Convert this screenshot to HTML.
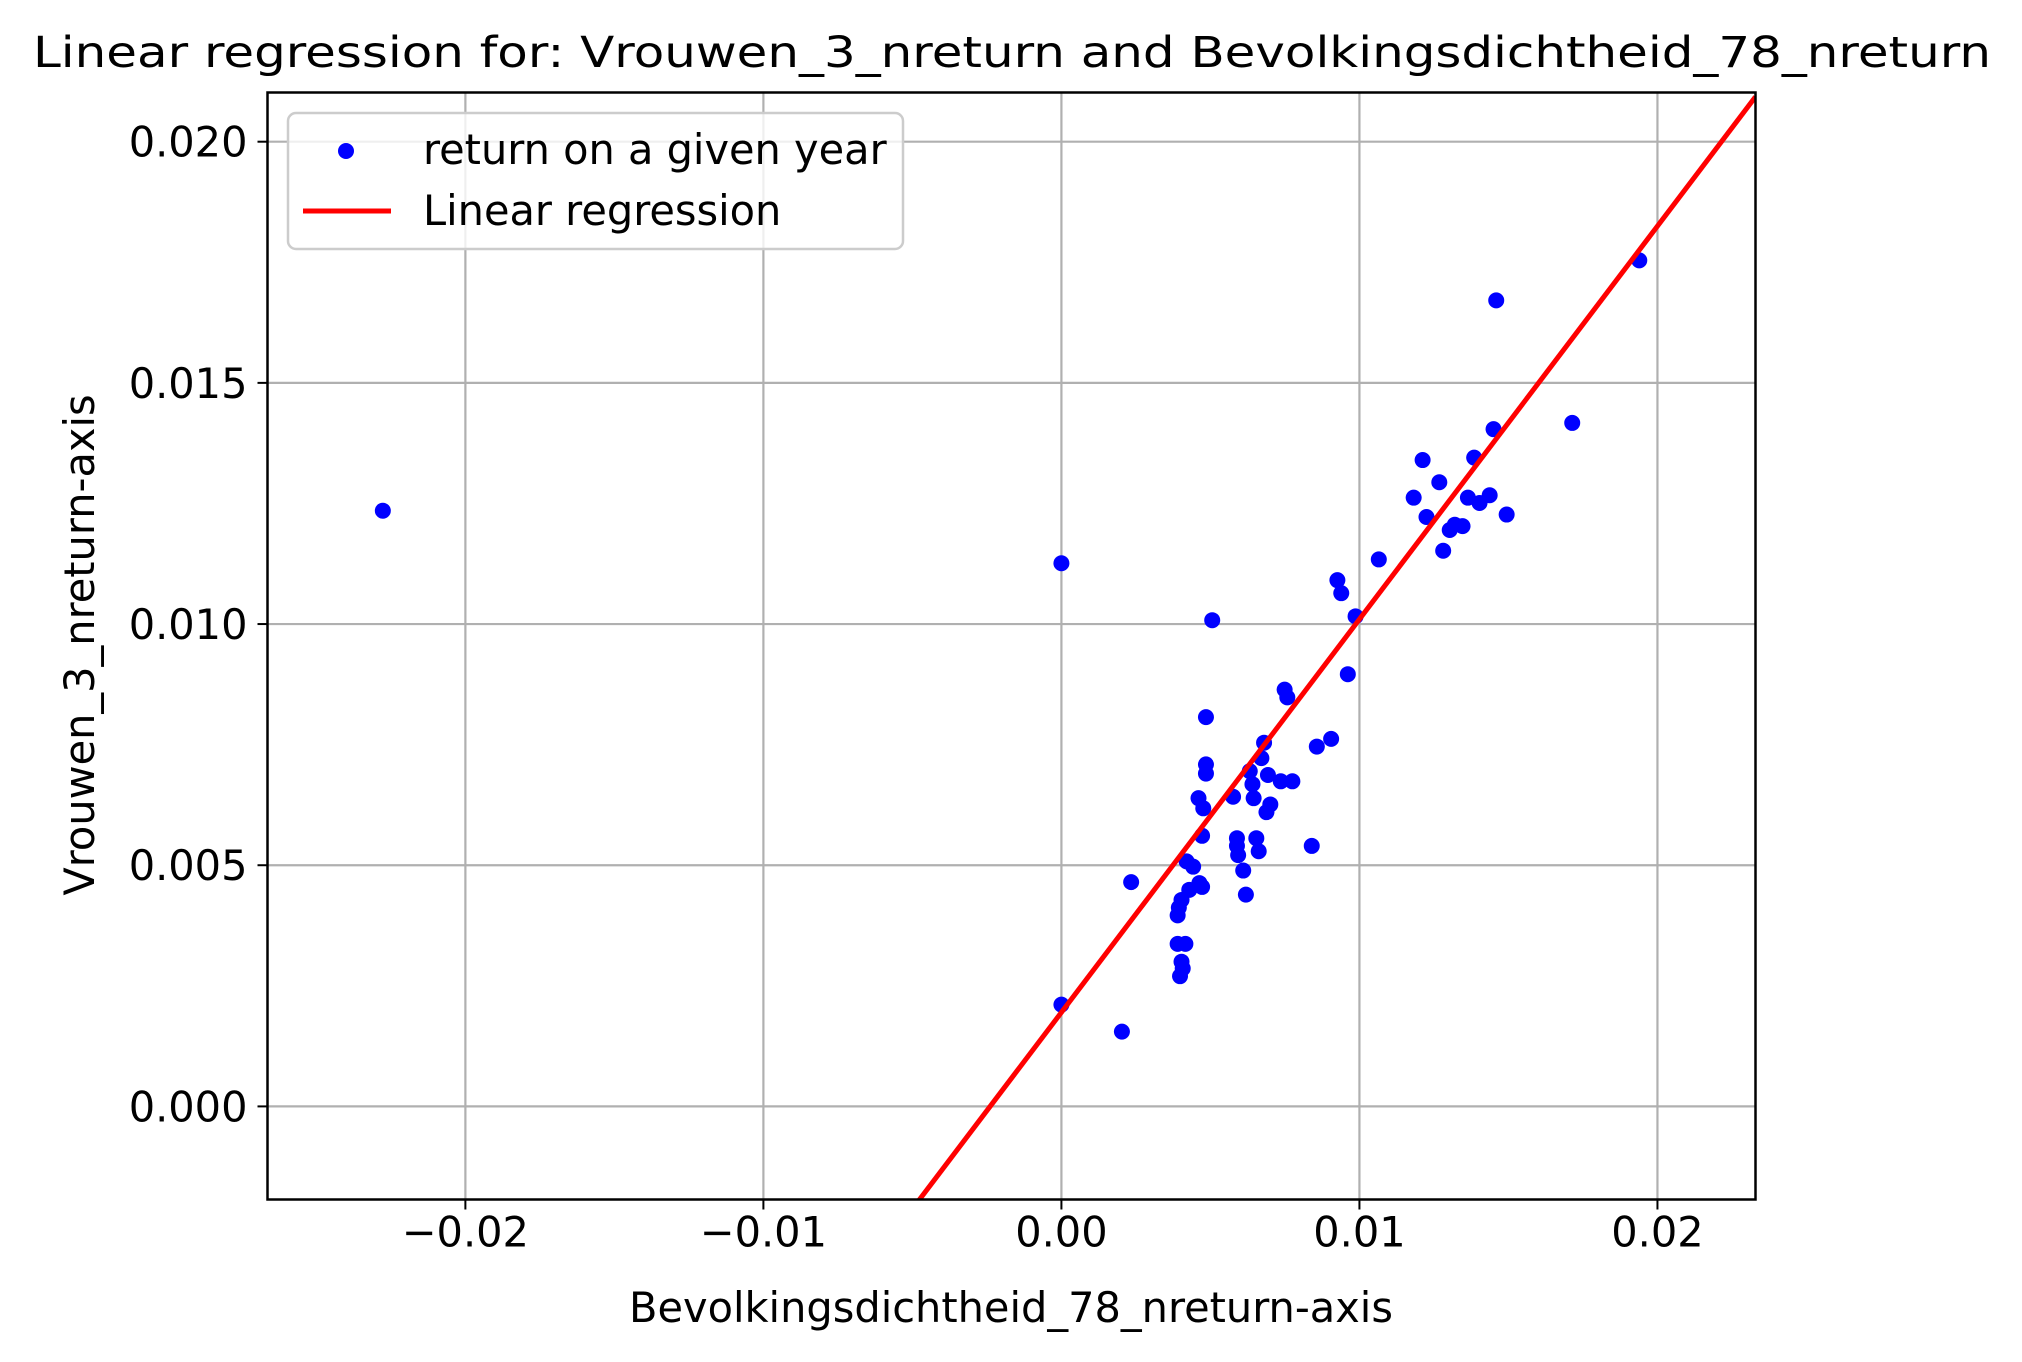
<!DOCTYPE html>
<html><head><meta charset="utf-8"><style>
html,body{margin:0;padding:0;background:#fff;overflow:hidden;width:2022px;height:1362px;}
svg{display:block;font-family:"DejaVu Sans","Liberation Sans",sans-serif;}
</style></head><body>
<svg id="chart" width="2022" height="1362" viewBox="0 0 2022 1362" xmlns="http://www.w3.org/2000/svg">
<rect width="2022" height="1362" fill="#fff"/>
<text x="1012" y="67" font-size="43" text-anchor="middle" textLength="1958" lengthAdjust="spacingAndGlyphs">Linear regression for: Vrouwen_3_nreturn and Bevolkingsdichtheid_78_nreturn</text>
<g id="grid"></g>
<g id="plot"></g>
<rect x="267.5" y="92.5" width="1488" height="1107" fill="none" stroke="#000" stroke-width="2.5"/>
<g id="ticks"></g>
<text x="1011" y="1322" font-size="41.5" text-anchor="middle">Bevolkingsdichtheid_78_nreturn-axis</text>
<text transform="translate(94,645) rotate(-90)" font-size="41.5" text-anchor="middle">Vrouwen_3_nreturn-axis</text>
<g>
<rect x="288" y="113" width="615" height="136" rx="8" fill="#fff" fill-opacity="0.8" stroke="#ccc" stroke-width="2.5"/>
<circle cx="346" cy="151" r="8" fill="#0000ff"/>
<text x="423" y="164" font-size="41.5">return on a given year</text>
<line x1="303" y1="211" x2="391" y2="211" stroke="#ff0000" stroke-width="5"/>
<text x="423" y="225" font-size="41.5">Linear regression</text>
</g>
</svg>
<script>
const xs = [-0.02277,0,0,0.00203,0.00234,0.00506,0.00485,0.00485,0.00485,0.0046,0.00476,0.00472,0.0042,0.00442,0.00463,0.00472,0.00429,0.00403,0.00394,0.0039,0.0039,0.00416,0.00403,0.00407,0.00398,0.00576,0.00589,0.00589,0.00593,0.0061,0.00619,0.00632,0.00641,0.00645,0.00654,0.00662,0.00671,0.0068,0.00693,0.00701,0.00688,0.00736,0.00775,0.00749,0.00758,0.0084,0.00857,0.00905,0.00926,0.00939,0.00961,0.00987,0.01065,0.01182,0.01212,0.01225,0.01268,0.01281,0.01303,0.0132,0.01346,0.01364,0.01385,0.01403,0.01437,0.0145,0.01459,0.01494,0.01714,0.01939];
const ys = [0.01235,0.01126,0.00211,0.00155,0.00465,0.01008,0.00807,0.00709,0.0069,0.00639,0.00618,0.00561,0.00508,0.00497,0.00463,0.00455,0.00449,0.00428,0.00412,0.00396,0.00337,0.00337,0.003,0.00286,0.0027,0.00642,0.00556,0.0054,0.00521,0.00489,0.00439,0.00695,0.00668,0.00639,0.00556,0.00529,0.00722,0.00754,0.00687,0.00626,0.0061,0.00674,0.00674,0.00864,0.00848,0.0054,0.00746,0.00762,0.01091,0.01064,0.00896,0.01016,0.01134,0.01262,0.0134,0.01222,0.01294,0.01152,0.01195,0.01206,0.01203,0.01262,0.01345,0.01251,0.01267,0.01404,0.01671,0.01227,0.01417,0.01754];
const fitSlope = [0.815];
const fitIntercept = [0.00195];
const xTicks = [-0.02,-0.01,0,0.01,0.02];
const xTickLabels = ["\u22120.02","\u22120.01","0.00","0.01","0.02"];
const yTicks = [0,0.005,0.01,0.015,0.02];
const yTickLabels = ["0.000","0.005","0.010","0.015","0.020"];

const L=267.5,R=1755.5,T=92.5,B=1199.5;
const xMin=-0.02664,xMax=0.02329,yMin=-0.00193,yMax=0.02102;
const X=v=>L+(v-xMin)/(xMax-xMin)*(R-L);
const Y=v=>B-(v-yMin)/(yMax-yMin)*(B-T);
const NS="http://www.w3.org/2000/svg";
function mk(tag,attrs,parent){const e=document.createElementNS(NS,tag);for(const k in attrs)e.setAttribute(k,attrs[k]);parent.appendChild(e);return e;}
const grid=document.getElementById('grid'),plot=document.getElementById('plot'),ticks=document.getElementById('ticks');
xTicks.forEach((t,i)=>{
  const g=mk('line',{x1:X(t),x2:X(t),y1:T,y2:B,stroke:'#b0b0b0','stroke-width':2.2},grid);
  
  
  const tk=mk('line',{x1:X(t),x2:X(t),y1:B,y2:B+10,stroke:'#000','stroke-width':2},ticks);
  
  
  const tx=mk('text',{x:X(t),y:B+47,'font-size':41.5,'text-anchor':'middle'},ticks);
  tx.textContent=xTickLabels[i];
  
  
});
yTicks.forEach((t,i)=>{
  const g=mk('line',{x1:L,x2:R,y1:Y(t),y2:Y(t),stroke:'#b0b0b0','stroke-width':2.2},grid);
  
  
  const tk=mk('line',{x1:L-10,x2:L,y1:Y(t),y2:Y(t),stroke:'#000','stroke-width':2},ticks);
  
  
  const tx=mk('text',{x:L-20,y:Y(t)+15,'font-size':41.5,'text-anchor':'end'},ticks);
  tx.textContent=yTickLabels[i];
  
  
});
xs.forEach((x,i)=>{
  const c=mk('circle',{cx:X(x),cy:Y(ys[i]),r:8,fill:'#0000ff'},plot);
  
  
});
const clip=mk('clipPath',{id:'clipA'},document.getElementById('chart'));
mk('rect',{x:L,y:T,width:R-L,height:B-T},clip);
const x1=xMin,x2=xMax;
const ln=mk('line',{x1:X(x1),y1:Y(fitSlope[0]*x1+fitIntercept[0]),x2:X(x2),y2:Y(fitSlope[0]*x2+fitIntercept[0]),stroke:'#ff0000','stroke-width':5,'clip-path':'url(#clipA)'},plot);


</script>
</body></html>
